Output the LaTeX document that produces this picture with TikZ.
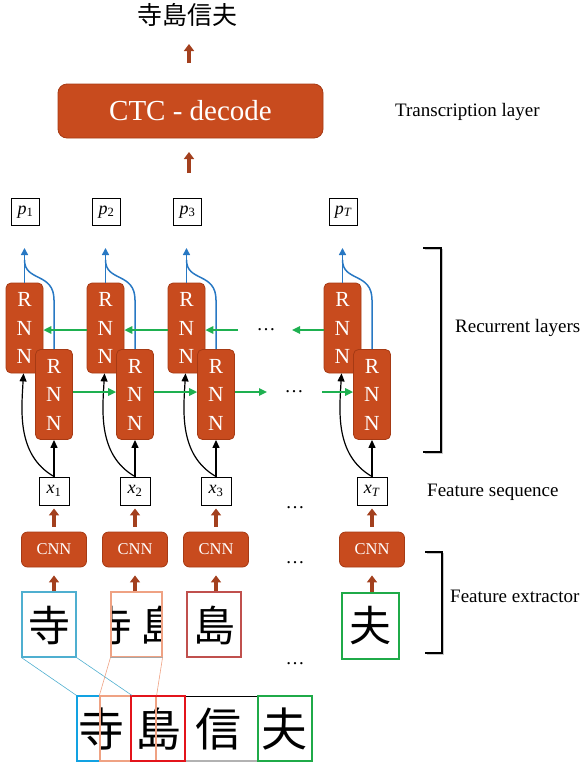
\documentclass[tikz,border=0pt]{standalone}
\usepackage{fontspec}
\setmainfont{Liberation Serif}
\newfontfamily\cjkfont{Noto Sans CJK JP}
\usetikzlibrary{arrows.meta}

\definecolor{blockfill}{HTML}{C84B1E}
\definecolor{blockedge}{HTML}{A63A14}
\definecolor{feedbrown}{HTML}{A3401E}
\definecolor{recgreen}{HTML}{1EB050}
\definecolor{outblue}{HTML}{2878C3}
\definecolor{winblueA}{HTML}{4FAFD0}
\definecolor{winblueB}{HTML}{12A2E2}
\definecolor{winsalmon}{HTML}{EFA283}
\definecolor{winredA}{HTML}{C0504D}
\definecolor{winredB}{HTML}{E3141B}
\definecolor{wingreen}{HTML}{1FAA48}

\tikzset{
  orangeblock/.style={fill=blockfill, draw=blockedge, line width=0.8pt, text=white, inner sep=0pt},
  rnnbox/.style={orangeblock, rounded corners=5pt, minimum width=37pt, minimum height=90pt,
    align=center, font=\fontsize{21.5}{28.5}\selectfont},
  cnnbox/.style={orangeblock, rounded corners=6pt, minimum width=65pt, minimum height=35pt,
    font=\fontsize{16.5}{16.5}\selectfont},
  ctcbox/.style={orangeblock, rounded corners=9pt, minimum width=265pt, minimum height=54pt,
    font=\fontsize{29}{29}\selectfont},
  vecbox/.style={draw=black, line width=0.9pt, fill=white, inner sep=0pt,
    minimum width=28pt, minimum height=27pt, font=\fontsize{18}{18}\selectfont},
  handchar/.style={font=\cjkfont\fontsize{42}{42}\selectfont, inner sep=0pt},
  stripchar/.style={font=\cjkfont\fontsize{46}{46}\selectfont, inner sep=0pt},
  imgbox/.style={line width=1.1pt, minimum width=54pt, minimum height=65pt, inner sep=0pt},
  sidetext/.style={font=\fontsize{19}{23}\selectfont, anchor=west, inner sep=0pt},
  ellip/.style={font=\fontsize{19}{23}\selectfont, inner sep=0pt},
  thickup/.style={draw=feedbrown, line width=4.2pt, -{Triangle[length=7pt,width=10pt]}},
  recarrow/.style={draw=recgreen, line width=1.5pt, -{Triangle[length=8pt,width=7.5pt]}},
  upline/.style={draw=outblue, line width=1.5pt},
  uparrow/.style={upline, -{Triangle[length=7pt,width=7pt]}},
  inarr/.style={draw=black, line width=1.2pt, -{Triangle[length=8pt,width=7pt]}},
}

\begin{document}
\begin{tikzpicture}[x=1pt,y=-1pt]
\useasboundingbox (0,0) rectangle (584,764);

% transcription layer
\node[font=\cjkfont\fontsize{25}{25}\selectfont, inner sep=0pt] (title) at (187,15) {寺島信夫};
\node[ctcbox] (ctc) at (190.5,111) {CTC - decode};
\coordinate (ta) at (189,63);
\coordinate (tb) at (189,44);
\draw[thickup] (ta) -- (tb);
\coordinate (ba) at (189,173);
\coordinate (bb) at (189,152);
\draw[thickup] (ba) -- (bb);

% columns: output box, two RNN layers, feature vector, CNN
\foreach \i/\u/\s in {1/24.5/1, 2/105.5/2, 3/186.5/3, T/342.5/{\textit{T}}}{
  \pgfmathsetmacro\l{\u+29.5}
  \node[vecbox] (p\i) at (\u+1,212) {\textit{p}\textsubscript{\s}};
  \node[rnnbox] (u\i) at (\u,328) {R\\N\\N};
  \node[rnnbox] (l\i) at (\l,394.5) {R\\N\\N};
  \node[vecbox, minimum width=30pt, minimum height=28pt] (x\i) at (\l,491) {\textit{x}\textsubscript{\s}};
  \node[cnnbox] (c\i) at (\l,549.5) {CNN};
  \draw[uparrow] (u\i.north) -- (\u,248);
  \draw[upline] (l\i.north) -- (\l,300) .. controls (\l,272) and (\u,282) .. (\u,260);
  \draw[inarr] (x\i.north) -- (l\i.south);
  \draw[inarr] (x\i.north) .. controls (\u-8,455) and (\u-3,410) .. ([xshift=-1pt]u\i.south);
  \draw[thickup, shorten <=5pt, shorten >=3pt] (c\i.north) -- (x\i.south);
}

% recurrent connections
\draw[recarrow] ([yshift=-2pt]u2.west) -- ([yshift=-2pt]u1.east);
\draw[recarrow] ([yshift=-2pt]u3.west) -- ([yshift=-2pt]u2.east);
\coordinate (g1) at (238,330);
\draw[recarrow] (g1) -- ([yshift=-2pt]u3.east);
\coordinate (g2) at (292,330);
\draw[recarrow] ([yshift=-2pt]uT.west) -- (g2);
\draw[recarrow] ([yshift=2.5pt]l1.east) -- ([yshift=2.5pt]l2.west);
\draw[recarrow] ([yshift=2.5pt]l2.east) -- ([yshift=2.5pt]l3.west);
\coordinate (g3) at (267,392);
\draw[recarrow] ([yshift=2.5pt]l3.east) -- (g3);
\coordinate (g4) at (322,392);
\draw[recarrow] (g4) -- ([yshift=2.5pt]lT.west);

% ellipses
\node[ellip] (e1) at (266,330) {…};
\node[ellip] (e2) at (294,392) {…};
\node[ellip] (e3) at (295,508) {…};
\node[ellip] (e4) at (295,563) {…};
\node[ellip] (e5) at (295,664) {…};

% sliding-window crops
\node[handchar] (h1) at (49,625) {寺};
\node[imgbox, draw=winblueA] (img1) at (49,624.5) {};
\begin{scope}
  \clip (111,592) rectangle (162,657);
  \node[handchar] (h2a) at (111,625) {寺};
  \node[handchar] (h2b) at (161,625) {島};
\end{scope}
\node[imgbox, draw=winsalmon, minimum width=51pt] (img2) at (136.5,624.5) {};
\draw[gray!70, line width=1.6pt] (img2.south west) -- (img2.south east);
\node[handchar] (h3) at (214,625) {島};
\node[imgbox, draw=winredA] (img3) at (214,624.5) {};
\node[handchar] (h4) at (370.5,626) {夫};
\node[imgbox, draw=wingreen, minimum width=57pt, minimum height=66pt] (imgT) at (370.5,626) {};

\foreach \i in {1,2,3,T}{
  \draw[thickup, shorten >=8pt] (c\i.south |- img\i.north) -- (c\i.south);
}

% text line with the window positions
\draw[gray!60, line width=1.5pt] (77,761) -- (312,761);
\draw[black, line width=1pt] (77,696) -- (312,696);
\node[stripchar] (k1) at (101,729) {寺};
\node[stripchar] (k2) at (158,729) {島};
\node[stripchar] (k3) at (218,729) {信};
\node[stripchar] (k4) at (284,729) {夫};
\node[imgbox, draw=winblueB, line width=1.5pt] (s1) at (104,728.5) {};
\node[imgbox, draw=winsalmon, line width=1.2pt, minimum width=56pt] (s2) at (128,728.5) {};
\node[imgbox, draw=winredB, line width=1.6pt] (s3) at (158,728.5) {};
\node[imgbox, draw=wingreen, line width=1.5pt] (s4) at (285,728.5) {};

\draw[winblueA, line width=0.6pt] (img1.south west) -- (s1.north west);
\draw[winblueA, line width=0.6pt] (img1.south east) -- (s1.north east);
\draw[winsalmon, line width=0.6pt] (img2.south west) -- (s2.north west);
\draw[winsalmon, line width=0.6pt] (img2.south east) -- (s2.north east);

% brackets
\draw[gray!45, line width=1.4pt, shift={(1.5,1.5)}] (423,248) -- (441,248) -- (441,452) -- (423,452);
\draw[black, line width=1.4pt] (423,248) -- (441,248) -- (441,452) -- (423,452);
\draw[gray!45, line width=1.4pt, shift={(1.5,1.5)}] (425,552) -- (442,552) -- (442,653) -- (425,653);
\draw[black, line width=1.4pt] (425,552) -- (442,552) -- (442,653) -- (425,653);

% layer labels
\node[sidetext] (tl) at (395,112) {Transcription layer};
\node[sidetext] (rl) at (455,328) {Recurrent layers};
\node[sidetext] (fs) at (427,492) {Feature sequence};
\node[sidetext] (fe) at (450,596) {Feature extractor};
\end{tikzpicture}
\end{document}
